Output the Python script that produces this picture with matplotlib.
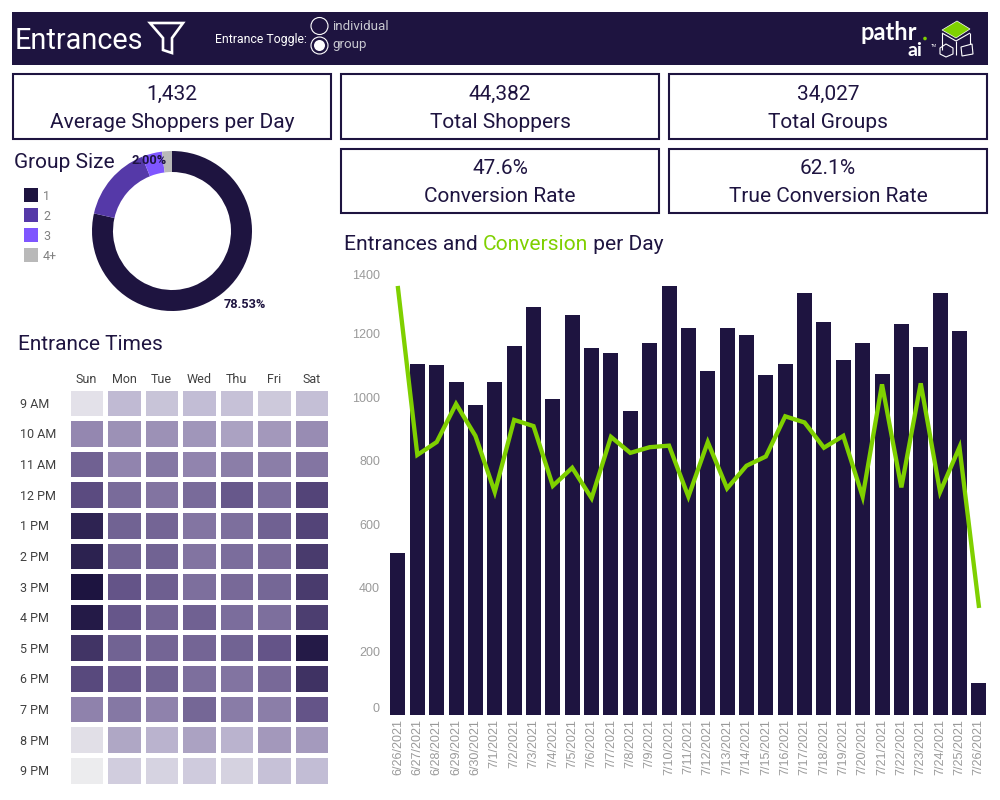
import matplotlib
matplotlib.use("Agg")
import matplotlib.pyplot as plt
from matplotlib.colors import LinearSegmentedColormap
from matplotlib.patches import Rectangle, Polygon, Circle

W, H = 1000, 800
DARK = "#1E1440"
GREEN = "#7FD000"
FONT = "Roboto"

# ---- data ----
dates = ["6/26/2021", "6/27/2021", "6/28/2021", "6/29/2021", "6/30/2021", "7/1/2021", "7/2/2021",
         "7/3/2021", "7/4/2021", "7/5/2021", "7/6/2021", "7/7/2021", "7/8/2021", "7/9/2021",
         "7/10/2021", "7/11/2021", "7/12/2021", "7/13/2021", "7/14/2021", "7/15/2021", "7/16/2021",
         "7/17/2021", "7/18/2021", "7/19/2021", "7/20/2021", "7/21/2021", "7/22/2021", "7/23/2021",
         "7/24/2021", "7/25/2021", "7/26/2021"]
entrances = [509, 1104, 1100, 1047, 975, 1047, 1160, 1283, 994, 1258, 1154, 1138, 956, 1170, 1349,
             1217, 1082, 1217, 1195, 1069, 1104, 1327, 1236, 1116, 1170, 1072, 1230, 1157, 1327, 1208, 100]
conversion = [82.9, 50.5, 53.0, 60.4, 54.2, 43.3, 57.3, 56.1, 44.5, 48.0, 42.1, 54.0, 50.9, 52.0, 52.3,
              42.4, 53.0, 44.0, 48.4, 50.2, 58.0, 56.8, 51.9, 54.2, 42.4, 64.2, 44.2, 64.4, 43.3, 52.0, 21.2]

group_labels = ["1", "2", "3", "4+"]
group_share = [78.53, 15.37, 4.10, 2.00]
group_colors = [DARK, "#5539A8", "#7F56FF", "#B9B9B9"]

days = ["Sun", "Mon", "Tue", "Wed", "Thu", "Fri", "Sat"]
hours = ["9 AM", "10 AM", "11 AM", "12 PM", "1 PM", "2 PM", "3 PM", "4 PM", "5 PM", "6 PM", "7 PM", "8 PM", "9 PM"]
traffic = [
    [8, 27, 23, 26, 24, 20, 25],
    [48, 44, 44, 42, 37, 41, 46],
    [66, 49, 55, 49, 52, 52, 56],
    [76, 61, 57, 61, 70, 60, 79],
    [93, 65, 64, 56, 59, 66, 79],
    [94, 65, 65, 57, 60, 62, 83],
    [100, 72, 67, 59, 62, 63, 83],
    [97, 71, 64, 66, 60, 59, 82],
    [86, 65, 64, 64, 65, 72, 97],
    [77, 69, 65, 59, 57, 62, 87],
    [50, 55, 50, 63, 53, 52, 72],
    [9, 35, 30, 37, 30, 41, 40],
    [3, 18, 15, 19, 16, 24, 26],
]
kpi_values = ["1,432", "44,382", "34,027", "47.6%", "62.1%"]
kpi_labels = ["Average Shoppers per Day", "Total Shoppers", "Total Groups", "Conversion Rate", "True Conversion Rate"]
kpi_boxes = [(12, 73, 332, 140), (340, 73, 660, 140), (668, 73, 988, 140), (340, 148, 660, 214), (668, 148, 988, 214)]
y_ticks = [0, 200, 400, 600, 800, 1000, 1200, 1400]

# ---- layout helpers ----
plt.rcParams["font.family"] = [FONT, "DejaVu Sans"]
fig = plt.figure(figsize=(10, 8), dpi=100, facecolor="white")


def ax_px(l, t, r, b, **kw):
    return fig.add_axes([l / W, 1 - b / H, (r - l) / W, (b - t) / H], **kw)


ov = ax_px(0, 0, W, H)
ov.set_xlim(0, W)
ov.set_ylim(H, 0)
ov.axis("off")
ov.set_zorder(10)
ov.patch.set_visible(False)

# ---- header ----
ov.add_patch(Rectangle((12, 12), 976, 53, fc=DARK, ec="none"))
ov.text(15, 41, "Entrances", color="white", fontsize=20.8, va="center", ha="left")
ov.add_patch(Polygon([(150, 23), (183, 23), (172, 38), (172, 53), (163, 50), (163, 38)],
                     closed=True, fc="none", ec="white", lw=1.9))
ov.text(215, 40, "Entrance Toggle:", color="white", fontsize=8.8, va="center", ha="left")
ov.text(332, 26, "individual", color="#C8C8D0", fontsize=9.6, va="center", ha="left")
ov.text(332, 44.5, "group", color="#C8C8D0", fontsize=9.6, va="center", ha="left")
ov.add_patch(Circle((319.5, 26), 8.5, fc="none", ec="white", lw=0.8))
ov.add_patch(Circle((319.5, 45.5), 8.5, fc="none", ec="white", lw=0.8))
ov.add_patch(Circle((319.5, 45.5), 5.5, fc="white", ec="none"))

# logo
ov.text(860, 32.5, "pathr", color="white", fontsize=17, fontweight="bold", family="Lato", va="center", ha="left")
ov.add_patch(Circle((925, 38.5), 1.8, fc=GREEN, ec="none"))
ov.text(908, 50, "ai", color="white", fontsize=14, fontweight="bold", family="Lato", va="center", ha="left")
ov.text(931, 46, "TM", color="white", fontsize=3, va="center", ha="left")
ov.add_patch(Polygon([(942, 30), (957, 21), (970, 29), (956, 38)], closed=True, fc=GREEN, ec="white", lw=0.5))
for a, b in [((942, 33), (942, 50)), ((970, 33), (970, 44)), ((942, 33), (956, 41)), ((970, 33), (956, 41)), ((956, 41), (956, 55))]:
    ov.plot([a[0], b[0]], [a[1], b[1]], color="white", lw=0.8, solid_capstyle="butt")
ov.add_patch(Polygon([(940, 48), (946, 44), (953, 48), (953, 54), (946, 57), (940, 54)], closed=True, fc=DARK, ec="white", lw=0.8))
ov.add_patch(Polygon([(961, 47), (972, 44), (973, 54), (962, 56)], closed=True, fc=DARK, ec="white", lw=0.8))

# ---- KPI cards ----
for (l, t, r, b), v, lab in zip(kpi_boxes, kpi_values, kpi_labels):
    ov.add_patch(Rectangle((l + 1, t + 1), r - l - 2, b - t - 2, fc="none", ec=DARK, lw=1.5))
    cx = (l + r) / 2
    ov.text(cx, t + 21, v, color=DARK, fontsize=15, va="center", ha="center")
    ov.text(cx, t + 49, lab, color=DARK, fontsize=15, va="center", ha="center")

# ---- group size donut ----
ov.text(14, 162, "Group Size", color=DARK, fontsize=15, va="center", ha="left")
for i, (lab, c) in enumerate(zip(group_labels, group_colors)):
    ov.add_patch(Rectangle((24, 188 + 20 * i), 14, 14, fc=c, ec="none"))
    ov.text(43, 196 + 20 * i, lab, color="#808080", fontsize=9, va="center", ha="left")
axd = ax_px(92, 151, 252, 311)
axd.pie(group_share, colors=group_colors, startangle=90, counterclock=False, radius=1,
        wedgeprops=dict(width=21 / 80, linewidth=0))
axd.set_xlim(-1, 1)
axd.set_ylim(-1, 1)
ov.text(149, 160, f"{group_share[3]:.2f}%", color=DARK, fontsize=9.2, fontweight="bold", va="center", ha="center")
ov.text(244.5, 305, f"{group_share[0]:.2f}%", color=DARK, fontsize=9.2, fontweight="bold", va="center", ha="center")

# ---- heatmap ----
ov.text(18, 344, "Entrance Times", color=DARK, fontsize=15, va="center", ha="left")
cmap = LinearSegmentedColormap.from_list(
    "purp", [(0, "#F1F1F1"), (0.25, "#C4BFD6"), (0.5, "#8F82AC"), (0.75, "#5E4E83"), (1, "#1D1440")])
axh = ax_px(67.7, 387.5, 330.2, 785.5)
axh.pcolormesh(traffic, cmap=cmap, vmin=0, vmax=100, edgecolors="white", linewidth=2.4)
axh.set_ylim(len(hours), 0)
axh.set_xlim(0, len(days))
axh.set_xticks([i + 0.5 for i in range(len(days))], days)
axh.set_yticks([i + 0.5 for i in range(len(hours))], hours)
axh.xaxis.tick_top()
axh.tick_params(length=0, labelsize=9, colors="#404040")
axh.tick_params(axis="x", pad=1)
axh.tick_params(axis="y", pad=0)
for s in axh.spines.values():
    s.set_visible(False)
for lab in axh.get_yticklabels():
    lab.set_ha("left")
    lab.set_x(-0.182)

# ---- bars and line ----
ACC = 0.318
top, base = 262, 715
axb = ax_px(388.3, top, 988.5, base)
x = list(range(len(dates)))
axb.bar(x, entrances, width=15 / 19.37, color=DARK)
axb.set_xlim(-0.5, len(dates) - 0.5)
axb.set_ylim(0, (base - top) / ACC)
axb.set_yticks(y_ticks, [str(v) for v in y_ticks], family="Liberation Sans")
axb.set_xticks(x, dates, rotation=90, family="Liberation Sans")
axb.tick_params(length=0, labelsize=9, colors="#9A9A9A")
axb.tick_params(axis="x", pad=3)
axb.tick_params(axis="y", pad=6)
for s in axb.spines.values():
    s.set_visible(False)
ylabs = axb.get_yticklabels()
ylabs[0].set_va("bottom")
ylabs[-1].set_va("top")

axl = axb.twinx()
axl.plot(x, conversion, color=GREEN, lw=3.1, solid_joinstyle="miter")
axl.set_ylim(0, (base - top) / 5.15)
axl.axis("off")

# chart title with one coloured word
r = fig.canvas.get_renderer()
cur = 344
for word, col in [("Entrances and ", DARK), ("Conversion", GREEN), (" per Day", DARK)]:
    t = ov.text(cur, 244, word.replace(" ", "\u00a0"), color=col, fontsize=15.15, va="center", ha="left")
    cur = t.get_window_extent(r).x1

fig.savefig("out.png", dpi=100)
